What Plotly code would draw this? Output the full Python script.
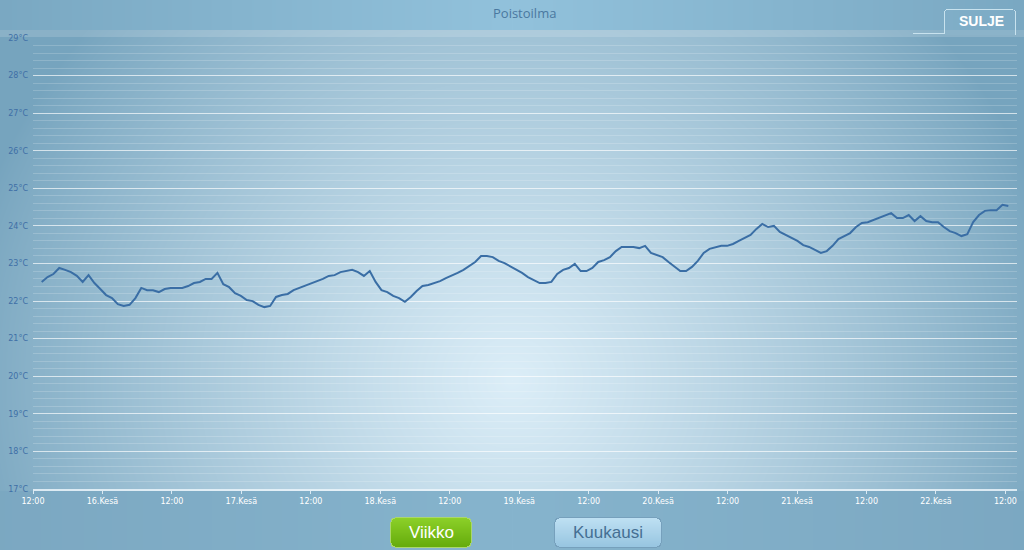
import base64, struct, zlib
import numpy as np
import pandas as pd
import plotly.graph_objects as go

# ---------------- data ----------------
TEMPS = [22.51, 22.64, 22.72, 22.88, 22.83, 22.77, 22.67, 22.51, 22.69, 22.48,
         22.32, 22.16, 22.08, 21.92, 21.87, 21.90, 22.08, 22.35, 22.29, 22.29,
         22.24, 22.32, 22.35, 22.35, 22.35, 22.40, 22.48, 22.51, 22.59, 22.59,
         22.75, 22.45, 22.37, 22.21, 22.14, 22.03, 22.00, 21.90, 21.84, 21.87,
         22.11, 22.16, 22.19, 22.29, 22.35, 22.40, 22.45, 22.51, 22.59, 22.67,
         22.69, 22.77, 22.80, 22.83, 22.77, 22.67, 22.80, 22.51, 22.29, 22.24,
         22.14, 22.08, 21.98, 22.11, 22.27, 22.40, 22.43, 22.48, 22.53, 22.61,
         22.67, 22.75, 22.83, 22.93, 23.04, 23.20, 23.20, 23.17, 23.07, 23.01,
         22.93, 22.85, 22.75, 22.64, 22.56, 22.48, 22.48, 22.51, 22.72, 22.83,
         22.88, 22.99, 22.80, 22.80, 22.88, 23.04, 23.09, 23.17, 23.33, 23.44,
         23.44, 23.44, 23.41, 23.47, 23.28, 23.23, 23.17, 23.04, 22.93, 22.80,
         22.80, 22.91, 23.07, 23.28, 23.39, 23.44, 23.47, 23.47, 23.52, 23.60,
         23.68, 23.76, 23.92, 24.05, 23.97, 24.00, 23.84, 23.76, 23.68, 23.60,
         23.49, 23.44, 23.36, 23.28, 23.33, 23.47, 23.65, 23.73, 23.81, 23.97,
         24.08, 24.10, 24.16, 24.21, 24.26, 24.34, 24.21, 24.21, 24.29, 24.13,
         24.26, 24.13, 24.10, 24.10, 23.97, 23.86, 23.81, 23.73, 23.78, 24.10,
         24.29, 24.40, 24.42, 24.42, 24.56, 24.53]
START = "2023-06-15 13:30"
END = "2023-06-22 12:30"
TIMES = pd.date_range(START, END, periods=len(TEMPS))

TICK_TIMES = ["2023-06-15 12:00", "2023-06-16 00:00", "2023-06-16 12:00", "2023-06-17 00:00",
              "2023-06-17 12:00", "2023-06-18 00:00", "2023-06-18 12:00", "2023-06-19 00:00",
              "2023-06-19 12:00", "2023-06-20 00:00", "2023-06-20 12:00", "2023-06-21 00:00",
              "2023-06-21 12:00", "2023-06-22 00:00", "2023-06-22 12:00"]
TICK_LABELS = ["12:00", "16.Kesä", "12:00", "17.Kesä", "12:00", "18.Kesä", "12:00", "19.Kesä",
               "12:00", "20.Kesä", "12:00", "21.Kesä", "12:00", "22.Kesä", "12:00"]
Y_TICKS = list(range(17, 30))
Y_LABELS = [f"{v}°C" for v in Y_TICKS]
TITLE = "Poistoilma"

# ---------------- layout geometry (pixels) ----------------
W, H = 1024, 550
L, R, T, B = 33, 1017, 38, 489


def px(x):
    return (x - L) / (R - L)


def py(y):
    return (B - y) / (B - T)


# ---------------- background image ----------------
yy, xx = np.mgrid[0:H, 0:W].astype(float)
edge = np.array([118, 164, 190], float)
center = np.array([220, 238, 248], float)
r = np.sqrt(((xx - 512) / 560) ** 2 + ((yy - 380) / 540) ** 2)
t = np.clip(1 - r, 0, 1) ** 0.85
img = edge + (center - edge) * t[..., None]

# lower panel below the chart
low = yy >= B + 2
c0 = np.array([122, 166, 192], float)
c1 = np.array([134, 180, 205], float)
lowcol = c0 + (c1 - c0) * np.clip(1 - np.abs(xx - 512) / 600, 0, 1)[..., None]
img[low] = lowcol[low]
# title band
band = yy < 30
b0 = np.array([120, 166, 192], float)
b1 = np.array([146, 194, 220], float)
bandcol = b0 + (b1 - b0) * np.clip(1 - np.abs(xx - 512) / 560, 0, 1)[..., None]
img[band] = bandcol[band]
strip = (yy >= 30) & (yy < 37)
img[strip] = img[strip] * 0.85 + 255 * 0.15


def rounded_mask(x0, y0, x1, y1, rad):
    m = (xx >= x0) & (xx <= x1) & (yy >= y0) & (yy <= y1)
    for cx, cy in [(x0 + rad, y0 + rad), (x1 - rad, y0 + rad), (x0 + rad, y1 - rad), (x1 - rad, y1 - rad)]:
        corner = (np.abs(xx - cx) <= rad) & (np.abs(yy - cy) <= rad) & \
                 (((xx < x0 + rad) | (xx > x1 - rad)) & ((yy < y0 + rad) | (yy > y1 - rad)))
        m &= ~(corner & ((xx - cx) ** 2 + (yy - cy) ** 2 > rad ** 2))
    return m


def button(x0, y0, x1, y1, top, bot, border):
    outer = rounded_mask(x0 - 1, y0 - 1, x1 + 1, y1 + 1, 5)
    img[outer] = np.array(border, float)
    inner = rounded_mask(x0, y0, x1, y1, 4)
    f = np.clip((yy - y0) / (y1 - y0), 0, 1)[..., None]
    col = np.array(top, float) * (1 - f) + np.array(bot, float) * f
    img[inner] = col[inner]


button(391, 518, 470, 546, (140, 208, 40), (102, 172, 12), (170, 215, 110))
button(555, 518, 660, 546, (190, 224, 243), (152, 198, 225), (118, 160, 188))

# SULJE tab
tab = (xx >= 945) & (xx <= 1014) & (yy >= 10) & (yy <= 34)
img[tab] = img[tab] * 0.9 + np.array([150, 195, 218]) * 0.1
line_c = np.array([200, 226, 238], float)
img[9, 946:1013] = line_c
img[11:34, 944] = line_c
img[11:35, 1015] = line_c
img[33, 913:945] = line_c
img[10, 945] = line_c
img[10, 1014] = line_c

arr = np.clip(img, 0, 255).astype(np.uint8)


def to_png(a):
    h, w, _ = a.shape
    raw = b"".join(b"\x00" + a[i].tobytes() for i in range(h))

    def chunk(tag, data):
        c = struct.pack(">I", len(data)) + tag + data
        return c + struct.pack(">I", zlib.crc32(tag + data) & 0xFFFFFFFF)
    return (b"\x89PNG\r\n\x1a\n" + chunk(b"IHDR", struct.pack(">IIBBBBB", w, h, 8, 2, 0, 0, 0)) +
            chunk(b"IDAT", zlib.compress(raw, 9)) + chunk(b"IEND", b""))


bg_uri = "data:image/png;base64," + base64.b64encode(to_png(arr)).decode()

# ---------------- figure ----------------
fig = go.Figure()
fig.add_trace(go.Scatter(x=TIMES, y=TEMPS, mode="lines",
                         line=dict(color="#3a6ea5", width=2), hoverinfo="x+y"))

fig.update_layout(
    width=W, height=H,
    margin=dict(l=L, r=W - R, t=T, b=H - B, pad=0),
    paper_bgcolor="rgb(118,164,190)",
    plot_bgcolor="rgba(0,0,0,0)",
    showlegend=False,
    images=[dict(source=bg_uri, xref="paper", yref="paper", x=px(0), y=py(0),
                 sizex=W / (R - L), sizey=H / (B - T), xanchor="left", yanchor="top",
                 sizing="stretch", layer="below")],
    xaxis=dict(type="date", range=["2023-06-15 12:00", "2023-06-22 14:00"],
               tickvals=TICK_TIMES, ticktext=TICK_LABELS, showgrid=False,
               showline=True, linecolor="rgba(235,245,250,0.85)", linewidth=2,
               ticks="outside", ticklen=3, tickcolor="rgba(235,245,250,0.85)",
               tickfont=dict(family="DejaVu Sans", size=8, color="white"),
               zeroline=False, fixedrange=True),
    yaxis=dict(range=[17, 29], tickvals=Y_TICKS, ticktext=Y_LABELS,
               showgrid=True, gridcolor="rgba(255,255,255,0.6)", gridwidth=1.2,
               minor=dict(dtick=0.2, showgrid=True, gridcolor="rgba(255,255,255,0.18)", gridwidth=1),
               ticks="", ticklabelstandoff=4, zeroline=False, showline=False,
               tickfont=dict(family="DejaVu Sans", size=8, color="#3f6fa6"), fixedrange=True),
)


def label(text, x, y, size, color, family):
    fig.add_annotation(text=text, x=px(x), y=py(y), xref="paper", yref="paper", showarrow=False,
                       xanchor="center", yanchor="middle",
                       font=dict(family=family, size=size, color=color))


label(TITLE, 524, 13, 13, "#4a78a0", "Open Sans")
label("<b>SULJE</b>", 981, 21, 14, "white", "Liberation Sans")
label("Viikko", 431, 532, 17, "white", "Liberation Sans")
label("Kuukausi", 607.5, 532, 17, "#456f93", "Liberation Sans")

fig.write_html("out.html", config={"displayModeBar": False},
               post_script="document.body.style.margin='0';document.body.style.overflow='hidden';")
